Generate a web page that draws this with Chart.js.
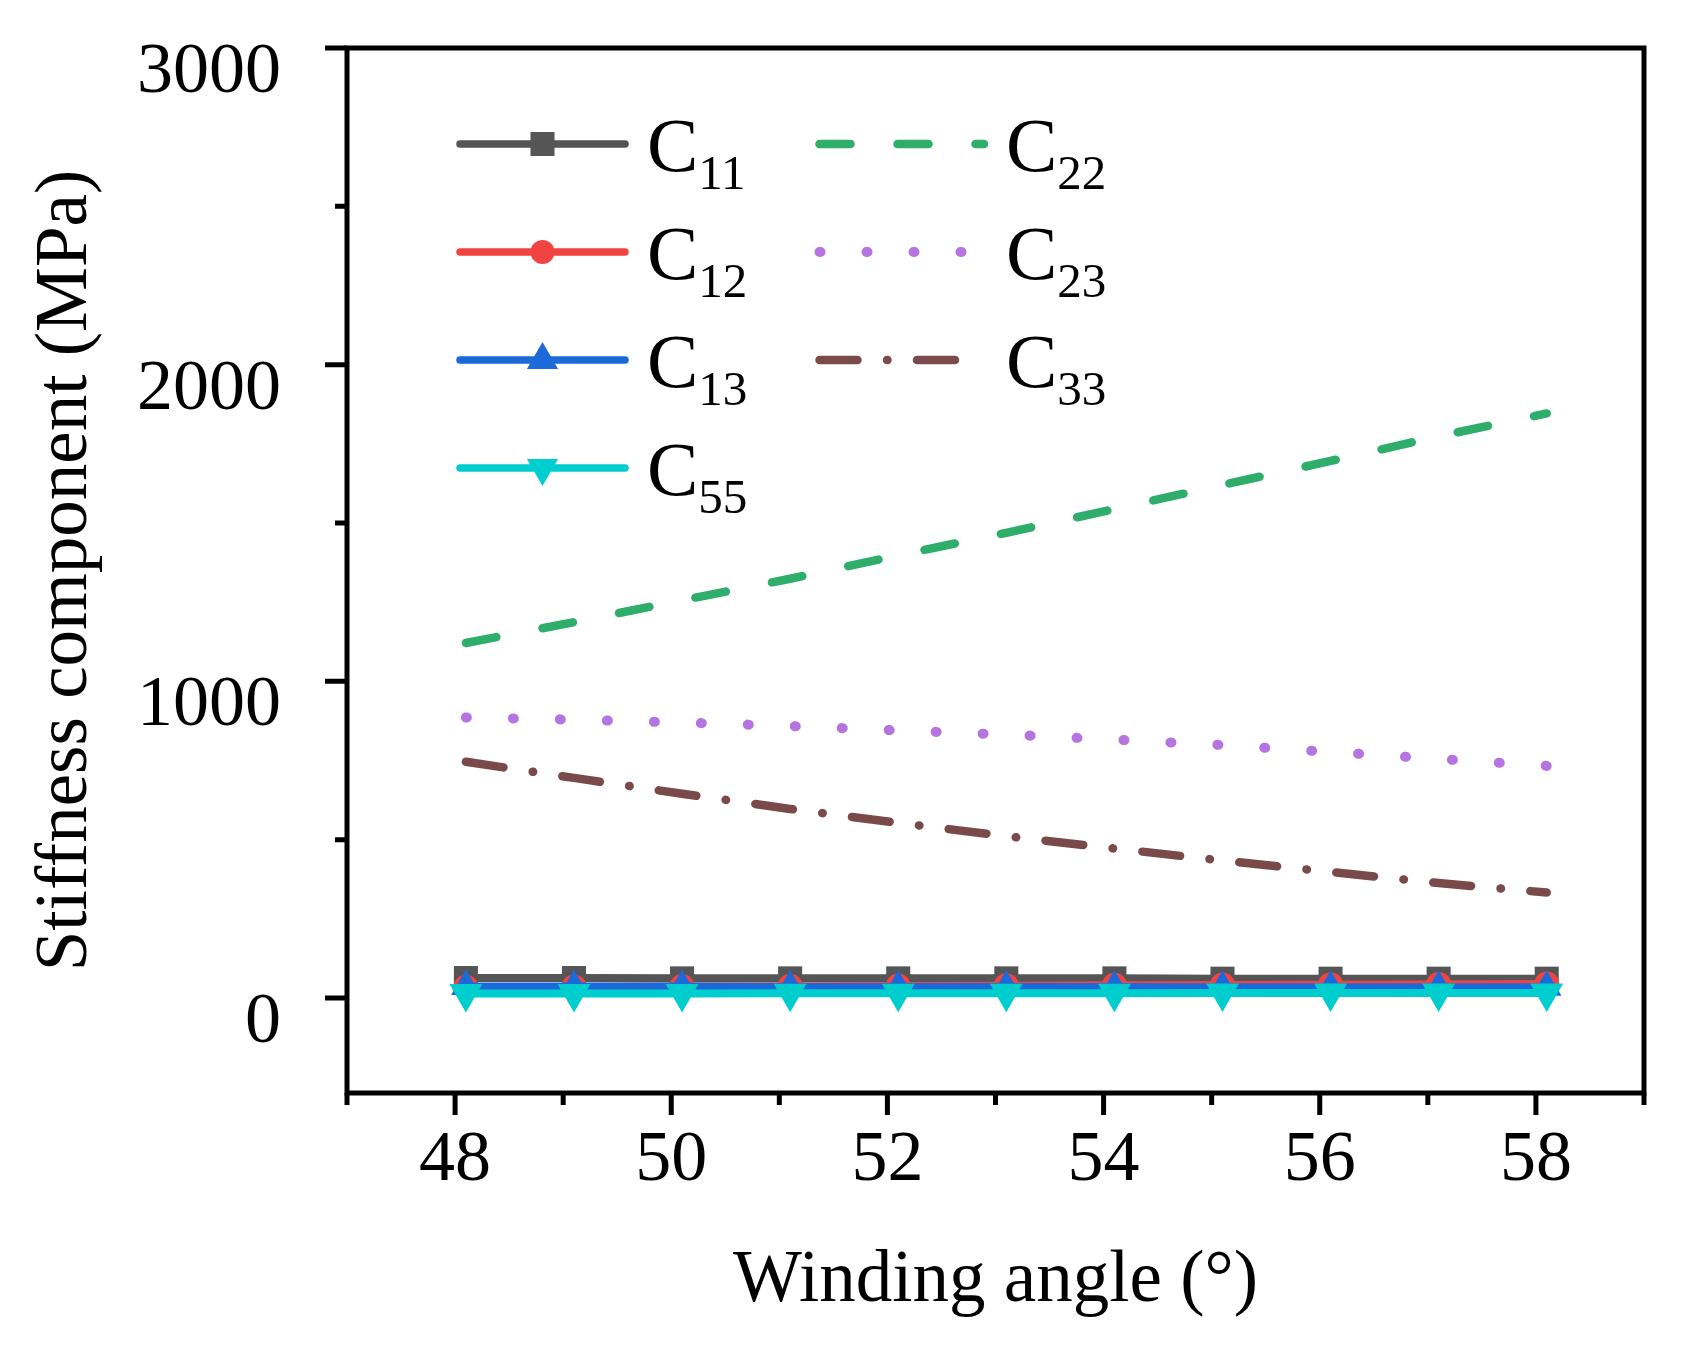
<!DOCTYPE html>
<html>
<head>
<meta charset="utf-8">
<script src="https://cdn.jsdelivr.net/npm/chart.js@4.4.1/dist/chart.umd.min.js"></script>
<style>
  html, body { margin: 0; padding: 0; background: #fff; }
  canvas { display: block; }
</style>
</head>
<body>
<canvas id="stiffness-chart" width="1691" height="1345"></canvas>
<script>
// Winding angle of each sample (deg)
var angles = [48.1, 49.1, 50.1, 51.1, 52.1, 53.1, 54.1, 55.1, 56.1, 57.1, 58.1];

// Stiffness components (MPa)
var c11 = [63, 63, 62, 62, 62, 62, 62, 61, 61, 61, 61];
var c12 = [34, 35, 36, 37, 38, 39, 40, 41, 42, 43, 44];
var c13 = [36, 36, 36, 35, 35, 35, 35, 34, 34, 34, 34];
var c55 = [14, 14, 14, 15, 15, 15, 15, 16, 16, 16, 16];
var c22 = [1121, 1187, 1256, 1324, 1398, 1469, 1544, 1620, 1696, 1774, 1846];
var c23 = [886, 879, 870, 859, 845, 832, 816, 799, 777, 755, 733];
var c33 = [746, 695, 645, 597, 553, 511, 472, 434, 398, 363, 333];

// Axis ticks
var xMajorTicks = [48, 50, 52, 54, 56, 58];
var xMinorTicks = [47, 49, 51, 53, 55, 57, 59];
var yMajorTicks = [0, 1000, 2000, 3000];
var yMinorTicks = [500, 1500, 2500];

Chart.defaults.font.family = "'Liberation Serif', 'Times New Roman', serif";
Chart.defaults.color = "#000";

function points(values) {
    return values.map(function(v, i) {
        return { x: angles[i], y: v };
    });
}

// Box around the plot plus outward major / minor tick marks
var framePlugin = {
    id: "frame",
    afterDraw: function(chart) {
        var ctx = chart.ctx;
        var a = chart.chartArea;
        var xs = chart.scales.x;
        var ys = chart.scales.y;
        ctx.save();
        ctx.strokeStyle = "#000";
        ctx.lineWidth = 5;
        ctx.lineCap = "butt";
        ctx.strokeRect(a.left, a.top, a.right - a.left, a.bottom - a.top);

        ctx.beginPath();
        xMajorTicks.forEach(function(v) {
            var px = xs.getPixelForValue(v);
            ctx.moveTo(px, a.bottom);
            ctx.lineTo(px, a.bottom + 22);
        });
        xMinorTicks.forEach(function(v) {
            var px = xs.getPixelForValue(v);
            ctx.moveTo(px, a.bottom);
            ctx.lineTo(px, a.bottom + 12);
        });
        yMajorTicks.forEach(function(v) {
            var py = ys.getPixelForValue(v);
            ctx.moveTo(a.left, py);
            ctx.lineTo(a.left - 22, py);
        });
        yMinorTicks.forEach(function(v) {
            var py = ys.getPixelForValue(v);
            ctx.moveTo(a.left, py);
            ctx.lineTo(a.left - 12, py);
        });
        ctx.stroke();
        ctx.restore();
    }
};

// Two-column legend with subscripted labels, drawn inside the plot
var legendPlugin = {
    id: "cornerLegend",
    afterDraw: function(chart) {
        var ctx = chart.ctx;
        var cols = [
            { lineStart: 460, lineEnd: 625, textX: 647 },
            { lineStart: 819.5, lineEnd: 984, textX: 1006 }
        ];
        var rows = [144, 252, 360, 468];
        var slots = [[0, 0], [0, 1], [0, 2], [0, 3], [1, 0], [1, 1], [1, 2]];

        chart.data.datasets.forEach(function(ds, i) {
            var col = cols[slots[i][0]];
            var y = rows[slots[i][1]];
            ctx.save();
            ctx.strokeStyle = ds.borderColor;
            ctx.lineWidth = ds.legendWidth || ds.borderWidth;
            ctx.lineCap = "round";
            ctx.setLineDash(ds.borderDash || []);
            ctx.beginPath();
            ctx.moveTo(col.lineStart, y);
            ctx.lineTo(col.lineEnd, y);
            ctx.stroke();
            ctx.setLineDash([]);
            if (ds.pointRadius > 0) {
                ctx.fillStyle = ds.pointBackgroundColor;
                Chart.helpers.drawPoint(ctx, {
                    pointStyle: ds.pointStyle,
                    rotation: ds.pointRotation || 0,
                    radius: ds.legendRadius || ds.pointRadius,
                    borderWidth: 0
                }, (col.lineStart + col.lineEnd) / 2, y);
            }
            ctx.fillStyle = "#000";
            ctx.textAlign = "left";
            ctx.textBaseline = "alphabetic";
            ctx.font = "77px 'Liberation Serif'";
            ctx.fillText("C", col.textX, y + 27);
            var w = ctx.measureText("C").width;
            ctx.font = "49px 'Liberation Serif'";
            ctx.fillText(ds.sub, col.textX + w, y + 45);
            ctx.restore();
        });
    }
};

var ctx = document.getElementById("stiffness-chart").getContext("2d");

var chart = new Chart(ctx, {
    type: "line",
    data: {
        datasets: [{
            label: "C11", sub: "11",
            data: points(c11),
            borderColor: "#555555", pointBackgroundColor: "#555555",
            borderWidth: 8, legendWidth: 7.5,
            pointStyle: "rect", pointRadius: 17, legendRadius: 17,
            order: 4
        }, {
            label: "C12", sub: "12",
            data: points(c12),
            borderColor: "#F24343", pointBackgroundColor: "#F24343",
            borderWidth: 8, legendWidth: 7.5,
            pointStyle: "circle", pointRadius: 12.5, legendRadius: 12,
            order: 3
        }, {
            label: "C13", sub: "13",
            data: points(c13),
            borderColor: "#1C6AD9", pointBackgroundColor: "#1C6AD9",
            borderWidth: 8, legendWidth: 7.5,
            pointStyle: "triangle", pointRadius: 17, legendRadius: 18,
            order: 2
        }, {
            label: "C55", sub: "55",
            data: points(c55),
            borderColor: "#00CDCD", pointBackgroundColor: "#00CDCD",
            borderWidth: 8, legendWidth: 7.5,
            pointStyle: "triangle", pointRotation: 180, pointRadius: 19, legendRadius: 18,
            order: 1
        }, {
            label: "C22", sub: "22",
            data: points(c22),
            borderColor: "#2EAD6B",
            borderWidth: 8.5,
            borderDash: [31, 47],
            pointRadius: 0,
            order: 5
        }, {
            label: "C23", sub: "23",
            data: points(c23),
            borderColor: "#B674E0",
            borderWidth: 10,
            borderDash: [1, 46],
            pointRadius: 0,
            order: 6
        }, {
            label: "C33", sub: "33",
            data: points(c33),
            borderColor: "#7A4A4A",
            borderWidth: 8.5,
            borderDash: [38, 29.5, 0.5, 29.5],
            pointRadius: 0,
            order: 7
        }]
    },
    options: {
        responsive: false,
        devicePixelRatio: 1,
        animation: false,
        datasets: {
            line: {
                borderCapStyle: "round",
                borderJoinStyle: "round",
                pointBorderWidth: 0,
                pointHoverRadius: 0,
                tension: 0,
                fill: false
            }
        },
        layout: {
            padding: { top: 48, right: 47, left: 0, bottom: 0 }
        },
        plugins: {
            legend: { display: false },
            tooltip: { enabled: false }
        },
        scales: {
            x: {
                type: "linear",
                min: 47,
                max: 59,
                afterBuildTicks: function(scale) {
                    scale.ticks = xMajorTicks.map(function(v) { return { value: v }; });
                },
                afterFit: function(scale) {
                    scale.height = 252;
                    scale.paddingLeft = 0;
                    scale.paddingRight = 0;
                },
                grid: { display: false, drawTicks: false, tickLength: 0 },
                border: { display: false },
                ticks: {
                    autoSkip: false,
                    maxRotation: 0,
                    padding: 25,
                    color: "#000",
                    font: { size: 72 },
                    callback: function(v) { return String(v); }
                },
                title: {
                    display: true,
                    text: "Winding angle (°)",
                    color: "#000",
                    font: { size: 73 },
                    padding: { top: 0, bottom: 19 }
                }
            },
            y: {
                type: "linear",
                min: -300,
                max: 3000,
                afterBuildTicks: function(scale) {
                    scale.ticks = yMajorTicks.map(function(v) { return { value: v }; });
                },
                afterFit: function(scale) {
                    scale.width = 347;
                    scale.paddingTop = 0;
                    scale.paddingBottom = 0;
                },
                grid: { display: false, drawTicks: false, tickLength: 0 },
                border: { display: false },
                ticks: {
                    padding: 66,
                    labelOffset: 25,
                    color: "#000",
                    font: { size: 72 },
                    callback: function(v) { return String(v); }
                },
                title: {
                    display: true,
                    text: "Stiffness component (MPa)",
                    color: "#000",
                    font: { size: 73 },
                    padding: { top: 23, bottom: 0 }
                }
            }
        }
    },
    plugins: [framePlugin, legendPlugin]
});
</script>
</body>
</html>
